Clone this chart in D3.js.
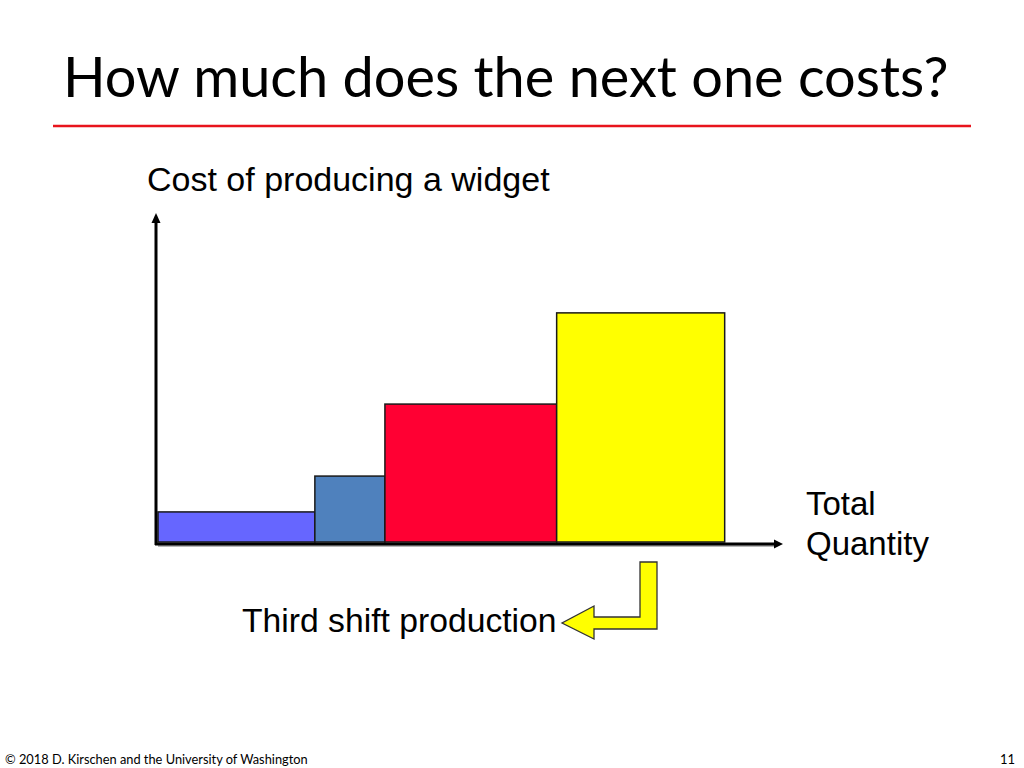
<!DOCTYPE html>
<html>
<head>
<meta charset="utf-8">
<script src="https://cdn.jsdelivr.net/npm/d3@7"></script>
<style>
  html, body { margin: 0; padding: 0; background: #fff; }
  svg { display: block; }
</style>
</head>
<body>
<svg id="chart" width="1024" height="768"></svg>
<script>
// ---- data ----
const blocks = ["Block 1", "Block 2", "Block 3", "Block 4"];
const quantities = [25.3, 11.3, 27.7, 27.1];   // width of each block (units of output)
const costs = [9.4, 20.6, 43.1, 71.6];          // cost per widget of each block
const blockColors = ["#6666ff", "#4f81bd", "#ff0033", "#ffff00"];
const titleText = "How much does the next one costs?";
const yLabel = "Cost of producing a widget";
const xLabelLines = ["Total", "Quantity"];
const annotationText = "Third shift production";
const footerText = "\u00a9 2018 D. Kirschen and the University of Washington";
const pageNumber = "11";

// ---- layout ----
const svg = d3.select("#chart");
const x = d3.scaleLinear().domain([0, 100]).range([158, 778]);
const y = d3.scaleLinear().domain([0, 100]).range([542, 222]);

const starts = d3.cumsum([0].concat(quantities.slice(0, -1)));
const data = blocks.map((b, i) => ({ name: b, q0: starts[i], q1: starts[i] + quantities[i], cost: costs[i], color: blockColors[i] }));

const defs = svg.append("defs");
const blur = defs.append("filter").attr("id", "sh").attr("x", "-5%").attr("y", "-50%").attr("width", "110%").attr("height", "200%");
blur.append("feGaussianBlur").attr("stdDeviation", 1.2);

// ---- title ----
const title = svg.append("text")
  .attr("x", 63).attr("y", 97)
  .attr("font-family", "Lato, 'Open Sans', sans-serif")
  .attr("font-size", 58)
  .attr("fill", "#000")
  .text(titleText);
const tw = title.node().getComputedTextLength();
title.attr("font-size", 58 * 886 / tw);

// red rule with shadow
svg.append("line").attr("x1", 54).attr("x2", 972).attr("y1", 129).attr("y2", 129)
  .attr("stroke", "#999").attr("stroke-width", 3).attr("filter", "url(#sh)").attr("opacity", 0.8);
svg.append("line").attr("x1", 53).attr("x2", 971).attr("y1", 126).attr("y2", 126)
  .attr("stroke", "#e8141c").attr("stroke-width", 2.6);

// ---- bars ----
svg.append("g").selectAll("rect").data(data).join("rect")
  .attr("x", d => x(d.q0))
  .attr("y", d => y(d.cost))
  .attr("width", d => x(d.q1) - x(d.q0))
  .attr("height", d => y(0) - y(d.cost))
  .attr("fill", d => d.color)
  .attr("stroke", "#1a1a1a")
  .attr("stroke-width", 1.5);

// ---- axes ----
const axisG = svg.append("g");
const x0 = x(0) - 2, y0 = y(0) + 2;
axisG.append("line").attr("x1", x0 + 2).attr("x2", x(100) - 3).attr("y1", y0 + 2).attr("y2", y0 + 2)
  .attr("stroke", "#888").attr("stroke-width", 2).attr("opacity", 0.6);
axisG.append("line").attr("x1", x0).attr("x2", x0).attr("y1", y0 + 1).attr("y2", y(100))
  .attr("stroke", "#000").attr("stroke-width", 3);
axisG.append("line").attr("x1", x0 - 1).attr("x2", x(100) - 3).attr("y1", y0).attr("y2", y0)
  .attr("stroke", "#000").attr("stroke-width", 3);
axisG.append("path")
  .attr("d", `M${x0},${y(100) - 9} L${x0 + 4.5},${y(100) + 1} L${x0 - 4.5},${y(100) + 1} Z`)
  .attr("fill", "#000");
axisG.append("path")
  .attr("d", `M${x(100) + 5},${y0} L${x(100) - 4},${y0 - 4.5} L${x(100) - 4},${y0 + 4.5} Z`)
  .attr("fill", "#000");

// ---- labels ----
const arial = "'Liberation Sans', Arial, Helvetica, sans-serif";
svg.append("text").attr("x", 147).attr("y", 191)
  .attr("font-family", arial).attr("font-size", 34).attr("fill", "#000").text(yLabel);

svg.append("text").attr("font-family", arial).attr("font-size", 33).attr("fill", "#000")
  .selectAll("tspan").data(xLabelLines).join("tspan")
  .attr("x", 806).attr("y", (d, i) => 515 + i * 40).text(d => d);

svg.append("text").attr("x", 242).attr("y", 632)
  .attr("font-family", arial).attr("font-size", 33.7).attr("fill", "#000").text(annotationText);

// ---- L-shaped pointer arrow ----
const ax = 657, ay = 562;
const arrowPts = [
  [ax, ay], [ax, ay + 67], [ax - 63, ay + 67], [ax - 63, ay + 77], [ax - 95, ay + 61],
  [ax - 63, ay + 44], [ax - 63, ay + 55], [ax - 17, ay + 55], [ax - 17, ay]
];
svg.append("path")
  .attr("d", d3.line()(arrowPts) + "Z")
  .attr("fill", "#ffff00")
  .attr("stroke", "#333")
  .attr("stroke-width", 1.3)
  .attr("stroke-linejoin", "miter");

// ---- footer ----
const foot = svg.append("text").attr("x", 5).attr("y", 764)
  .attr("font-family", "Lato, 'Open Sans', sans-serif").attr("font-size", 13).attr("fill", "#000")
  .text(footerText);
const fw = foot.node().getComputedTextLength();
foot.attr("font-size", 13 * 303 / fw);
svg.append("text").attr("x", 1015).attr("y", 764).attr("text-anchor", "end")
  .attr("font-family", "Lato, 'Open Sans', sans-serif").attr("font-size", 13).attr("fill", "#000")
  .text(pageNumber);
</script>
</body>
</html>
